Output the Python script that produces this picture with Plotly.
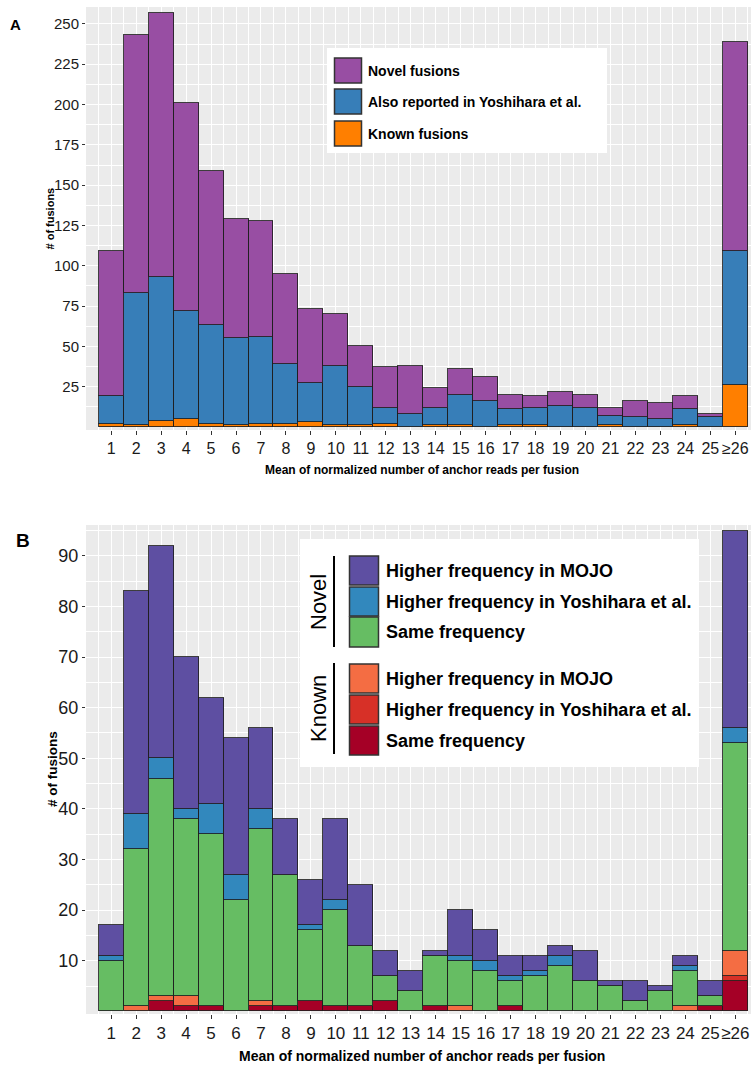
import plotly.graph_objects as go

W, H = 754, 1067
bins = [str(i) for i in range(1, 26)] + ["≥26"]

# ---------- Panel A (segment heights, bottom -> top) ----------
a_names = ["Novel fusions", "Also reported in Yoshihara et al.", "Known fusions"]
a_known = [2, 1, 4, 5, 2, 1, 2, 2, 3, 1, 1, 2, 0, 1, 1, 0, 1, 1, 0, 0, 1, 0, 0, 1, 0, 26]
a_also = [17, 82, 89, 67, 61, 54, 54, 37, 24, 37, 24, 10, 8, 11, 19, 16, 10, 11, 13, 12, 6, 6, 5, 10, 6, 83]
a_novel = [90, 160, 164, 129, 96, 74, 72, 56, 46, 32, 25, 25, 30, 12, 16, 15, 9, 7, 9, 8, 5, 10, 10, 8, 2, 130]
a_colors = ["#984EA3", "#377EB8", "#FF7F00"]

# ---------- Panel B ----------
b_names = ["Higher frequency in MOJO", "Higher frequency in Yoshihara et al.", "Same frequency"]
b_known_same = [0, 0, 2, 1, 1, 0, 1, 1, 2, 1, 1, 2, 0, 1, 0, 0, 1, 0, 0, 0, 0, 0, 0, 0, 1, 6]
b_known_yosh = [0, 0, 0, 0, 0, 0, 0, 0, 0, 0, 0, 0, 0, 0, 0, 0, 0, 0, 0, 0, 0, 0, 0, 0, 0, 1]
b_known_mojo = [0, 1, 1, 2, 0, 0, 1, 0, 0, 0, 0, 0, 0, 0, 1, 0, 0, 0, 0, 0, 0, 0, 0, 1, 0, 5]
b_novel_same = [10, 31, 43, 35, 34, 22, 34, 26, 14, 19, 12, 5, 4, 10, 9, 8, 5, 7, 9, 6, 5, 2, 4, 7, 2, 41]
b_novel_yosh = [1, 7, 4, 2, 6, 5, 4, 0, 1, 2, 0, 0, 0, 0, 1, 2, 1, 1, 2, 0, 0, 0, 0, 1, 0, 3]
b_novel_mojo = [6, 44, 42, 30, 21, 27, 16, 11, 9, 16, 12, 5, 4, 1, 9, 6, 4, 3, 2, 6, 1, 4, 1, 2, 3, 39]
b_novel_colors = ["#5E4FA2", "#3288BD", "#66BD63"]
b_known_colors = ["#F46D43", "#D73027", "#A50026"]

pos = list(range(1, len(bins) + 1))


def nz(v):
    return [x if x else None for x in v]


fig = go.Figure()
line = dict(color="rgba(30,30,30,0.85)", width=1)


def add(vals, color, xa, ya):
    fig.add_trace(go.Bar(x=pos, y=nz(vals), width=1, marker=dict(color=color, line=line),
                         xaxis=xa, yaxis=ya, showlegend=False))


# Panel A stack
add(a_known, a_colors[2], "x", "y")
add(a_also, a_colors[1], "x", "y")
add(a_novel, a_colors[0], "x", "y")
# Panel B stack
add(b_known_same, b_known_colors[2], "x2", "y2")
add(b_known_yosh, b_known_colors[1], "x2", "y2")
add(b_known_mojo, b_known_colors[0], "x2", "y2")
add(b_novel_same, b_novel_colors[2], "x2", "y2")
add(b_novel_yosh, b_novel_colors[1], "x2", "y2")
add(b_novel_mojo, b_novel_colors[0], "x2", "y2")


def px(xp):
    return xp / W


def py(yp):
    return 1 - yp / H


tick_col = "#333333"
xdom = [px(86), px(751)]
half = [i + 0.5 for i in range(0, len(bins) + 1)]

xcommon = dict(domain=xdom, range=[-0.01, 26.63], tickmode="array", tickvals=pos, ticktext=bins,
               showgrid=True, gridcolor="white", gridwidth=1.2, zeroline=False, showline=False,
               ticks="outside", ticklen=4, tickwidth=1, tickcolor=tick_col, tickangle=0,
               minor=dict(tickmode="array", tickvals=half, showgrid=True, gridcolor="white", gridwidth=0.5))

fig.update_layout(
    width=W, height=H, margin=dict(l=0, r=0, t=0, b=0),
    paper_bgcolor="white", plot_bgcolor="#EBEBEB",
    barmode="stack", bargap=0,
    font=dict(family="Liberation Sans, Arial, sans-serif", color="#1a1a1a"),
    xaxis=dict(**xcommon, anchor="y", tickfont=dict(size=16, color="#1a1a1a")),
    yaxis=dict(domain=[py(430), py(7)], range=[-1.86, 260.5], anchor="x",
               tickmode="array", tickvals=list(range(25, 251, 25)),
               showgrid=True, gridcolor="white", gridwidth=1.2, zeroline=False,
               ticks="outside", ticklen=3, tickcolor=tick_col,
               tickfont=dict(size=15, color="#1a1a1a"),
               minor=dict(tickmode="array", tickvals=[12.5 + 25 * i for i in range(11)],
                          showgrid=True, gridcolor="white", gridwidth=0.5)),
    xaxis2=dict(**xcommon, anchor="y2", tickfont=dict(size=17, color="#1a1a1a")),
    yaxis2=dict(domain=[py(1014), py(525)], range=[-0.53, 96.1], anchor="x2",
                tickmode="array", tickvals=list(range(10, 91, 10)),
                showgrid=True, gridcolor="white", gridwidth=1.2, zeroline=False,
                ticks="outside", ticklen=3, tickcolor=tick_col,
                tickfont=dict(size=18, color="#1a1a1a"),
                minor=dict(tickmode="array", tickvals=[5 + 10 * i for i in range(10)],
                           showgrid=True, gridcolor="white", gridwidth=0.5)),
)

ann = []
shapes = []

# Panel labels
ann.append(dict(text="<b>A</b>", x=px(15), y=py(25), xref="paper", yref="paper", showarrow=False,
                font=dict(size=15, color="black"), xanchor="center", yanchor="middle"))
ann.append(dict(text="<b>B</b>", x=px(23), y=py(540), xref="paper", yref="paper", showarrow=False,
                font=dict(size=19, color="black"), xanchor="center", yanchor="middle"))

# Axis titles
ann.append(dict(text="<b># of fusions</b>", x=px(49), y=py(218.5), xref="paper", yref="paper",
                showarrow=False, textangle=-90, font=dict(size=11, color="black"),
                xanchor="center", yanchor="middle"))
ann.append(dict(text="<b># of fusions</b>", x=px(52.5), y=py(769.5), xref="paper", yref="paper",
                showarrow=False, textangle=-90, font=dict(size=13.5, color="black"),
                xanchor="center", yanchor="middle"))
ann.append(dict(text="<b>Mean of normalized number of anchor reads per fusion</b>", x=px(422), y=py(470),
                xref="paper", yref="paper", showarrow=False, font=dict(size=12, color="black"),
                xanchor="center", yanchor="middle"))
ann.append(dict(text="<b>Mean of normalized number of anchor reads per fusion</b>", x=px(422), y=py(1056),
                xref="paper", yref="paper", showarrow=False, font=dict(size=14, color="black"),
                xanchor="center", yanchor="middle"))

# Legend A
shapes.append(dict(type="rect", xref="paper", yref="paper", x0=px(327), x1=px(607), y0=py(153), y1=py(48),
                   fillcolor="white", line=dict(width=0), layer="above"))
a_rows = [(58, 83), (89, 114), (121, 146)]
for (t, b), name, col in zip(a_rows, a_names, a_colors):
    shapes.append(dict(type="rect", xref="paper", yref="paper", x0=px(334.5), x1=px(361.5), y0=py(b), y1=py(t),
                       fillcolor=col, line=dict(color="#333333", width=1.5), layer="above"))
    ann.append(dict(text="<b>%s</b>" % name, x=px(366), y=py((t + b) / 2), xref="paper", yref="paper",
                    showarrow=False, xanchor="left", yanchor="middle", font=dict(size=14, color="black")))

# Legend B
shapes.append(dict(type="rect", xref="paper", yref="paper", x0=px(300), x1=px(699), y0=py(767), y1=py(539),
                   fillcolor="white", line=dict(width=0), layer="above"))
nov_rows = [(556, 585), (587, 616), (617, 647)]
kn_rows = [(664, 693), (695, 724), (726, 755)]
for rows, cols in ((nov_rows, b_novel_colors), (kn_rows, b_known_colors)):
    for (t, b), name, col in zip(rows, b_names, cols):
        shapes.append(dict(type="rect", xref="paper", yref="paper", x0=px(349.5), x1=px(378.5),
                           y0=py(b), y1=py(t), fillcolor=col, line=dict(color="#333333", width=1.5),
                           layer="above"))
        ann.append(dict(text="<b>%s</b>" % name, x=px(384), y=py((t + b) / 2), xref="paper", yref="paper",
                        showarrow=False, xanchor="left", yanchor="middle", font=dict(size=18, color="black")))

for label, (t, b) in (("Novel", (556, 647)), ("Known", (663, 754))):
    shapes.append(dict(type="line", xref="paper", yref="paper", x0=px(334), x1=px(334), y0=py(b), y1=py(t),
                       line=dict(color="black", width=2), layer="above"))
    ann.append(dict(text=label, x=px(318), y=py((t + b) / 2 + 0.5), xref="paper", yref="paper",
                    showarrow=False, textangle=-90, xanchor="center", yanchor="middle",
                    font=dict(size=22, color="black")))

fig.update_layout(annotations=ann, shapes=shapes)
fig.write_html("out.html")
